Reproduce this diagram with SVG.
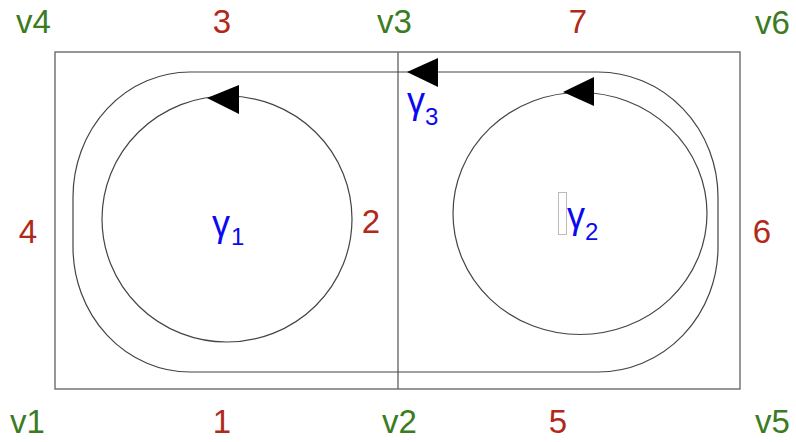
<svg xmlns="http://www.w3.org/2000/svg" width="796" height="442" viewBox="0 0 796 442">
<style>
.v{font-family:"Liberation Sans",Arial,sans-serif;font-size:33px;fill:#3b7b22}
.e{font-family:"Liberation Sans",Arial,sans-serif;font-size:33px;fill:#b0291a;text-anchor:middle}
.g{font-family:"Liberation Sans",Arial,sans-serif;font-size:36px;fill:#0a0af0}
.s{font-family:"Liberation Sans",Arial,sans-serif;font-size:24px;fill:#0a0af0}
.edge{fill:none;stroke:#6b6b6b;stroke-width:1.4}
.loop{fill:none;stroke:#444;stroke-width:1.2}
.head{fill:#000}
</style>
<rect width="796" height="442" fill="#fff"/>
<g id="graph-edges">
<rect class="edge" x="55" y="52" width="685" height="337"/>
<line class="edge" x1="398" y1="52" x2="398" y2="389"/>
</g>
<g id="connectors">
<ellipse id="gamma1-path" class="loop" cx="227" cy="219" rx="125" ry="123"/>
<polygon class="head" points="207,98 239,85 239,114"/>
<ellipse id="gamma2-path" class="loop" cx="580" cy="213.5" rx="127" ry="121"/>
<polygon class="head" points="563,92 594,77 594,106"/>
<path id="gamma3-path" class="loop" stroke="#222" d="M 598 72 H 190 A 117 125 0 0 0 73 197 V 247 A 117 125 0 0 0 190 372 H 598 A 120 125 0 0 0 718 247 V 197 A 120 125 0 0 0 598 72"/>
<polygon class="head" points="407,72 438,58 438,87"/>
</g>
<g id="v4"><text class="v" x="16" y="33">v4</text></g>
<g id="v3"><text class="v" x="377" y="33">v3</text></g>
<g id="v6"><text class="v" x="755" y="34">v6</text></g>
<g id="v1"><text class="v" x="10" y="433">v1</text></g>
<g id="v2"><text class="v" x="382" y="433">v2</text></g>
<g id="v5"><text class="v" x="755" y="433">v5</text></g>
<g id="e3"><text class="e" x="222" y="33">3</text></g>
<g id="e7"><text class="e" x="578" y="33">7</text></g>
<g id="e4"><text class="e" x="28" y="243">4</text></g>
<g id="e2"><text class="e" x="371" y="233">2</text></g>
<g id="e6"><text class="e" x="762" y="243">6</text></g>
<g id="e1"><text class="e" x="222" y="433">1</text></g>
<g id="e5"><text class="e" x="558" y="433">5</text></g>
<g id="gamma1"><text class="g" x="212" y="236">γ</text><text class="s" x="231" y="245">1</text></g>
<g id="gamma2"><rect x="558.5" y="192.5" width="8" height="42" fill="none" stroke="#bbb" stroke-width="1"/><text class="g" x="567" y="228">γ</text><text class="s" x="585" y="240">2</text></g>
<g id="gamma3"><text class="g" x="407" y="113">γ</text><text class="s" x="425" y="125">3</text></g>
</svg>
